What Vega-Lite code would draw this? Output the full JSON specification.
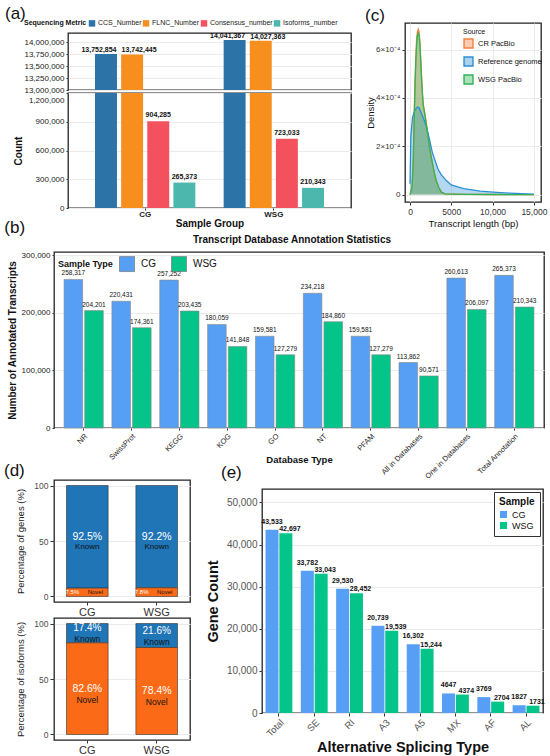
{
  "$schema": "https://vega.github.io/schema/vega-lite/v6.json",
  "padding": {"left": 3, "top": 3, "right": 0, "bottom": 0},
  "background": "white",
  "config": {
    "font": "Liberation Sans",
    "view": {"stroke": "#222", "strokeWidth": 1.3},
    "axis": {"domain": false, "labelColor": "#333", "titleColor": "#111", "tickColor": "#333", "gridColor": "#ebebeb", "tickSize": 3},
    "title": {"fontSize": 17, "fontWeight": "normal", "color": "#111", "anchor": "start"}
  },
  "datasets": {
    "seq": [
      {"group": "CG", "metric": "CCS_Number", "count": 13752854},
      {"group": "CG", "metric": "FLNC_Number", "count": 13742445},
      {"group": "CG", "metric": "Consensus_number", "count": 904285},
      {"group": "CG", "metric": "Isoforms_number", "count": 265373},
      {"group": "WSG", "metric": "CCS_Number", "count": 14041367},
      {"group": "WSG", "metric": "FLNC_Number", "count": 14027363},
      {"group": "WSG", "metric": "Consensus_number", "count": 723033},
      {"group": "WSG", "metric": "Isoforms_number", "count": 210343}
    ],
    "dens": [
      {"source": "CR PacBio", "length": 0, "density": 0},
      {"source": "CR PacBio", "length": 250, "density": 0.00003},
      {"source": "CR PacBio", "length": 400, "density": 0.00015},
      {"source": "CR PacBio", "length": 500, "density": 0.00032},
      {"source": "CR PacBio", "length": 600, "density": 0.00046},
      {"source": "CR PacBio", "length": 700, "density": 0.00057},
      {"source": "CR PacBio", "length": 800, "density": 0.00064},
      {"source": "CR PacBio", "length": 900, "density": 0.000675},
      {"source": "CR PacBio", "length": 1000, "density": 0.000685},
      {"source": "CR PacBio", "length": 1100, "density": 0.000675},
      {"source": "CR PacBio", "length": 1200, "density": 0.00063},
      {"source": "CR PacBio", "length": 1300, "density": 0.00056},
      {"source": "CR PacBio", "length": 1400, "density": 0.00049},
      {"source": "CR PacBio", "length": 1500, "density": 0.00042},
      {"source": "CR PacBio", "length": 1600, "density": 0.000375},
      {"source": "CR PacBio", "length": 1800, "density": 0.000335},
      {"source": "CR PacBio", "length": 2000, "density": 0.00029},
      {"source": "CR PacBio", "length": 2200, "density": 0.00024},
      {"source": "CR PacBio", "length": 2400, "density": 0.00019},
      {"source": "CR PacBio", "length": 2600, "density": 0.00015},
      {"source": "CR PacBio", "length": 2800, "density": 0.000115},
      {"source": "CR PacBio", "length": 3000, "density": 0.000082},
      {"source": "CR PacBio", "length": 3200, "density": 0.000055},
      {"source": "CR PacBio", "length": 3500, "density": 0.000028},
      {"source": "CR PacBio", "length": 3800, "density": 0.00001},
      {"source": "CR PacBio", "length": 4200, "density": 0.000003},
      {"source": "CR PacBio", "length": 5000, "density": 0.000002},
      {"source": "CR PacBio", "length": 7000, "density": 0.000001},
      {"source": "CR PacBio", "length": 10000, "density": 0.0000005},
      {"source": "CR PacBio", "length": 15000, "density": 0},
      {"source": "Reference genome", "length": 0, "density": 0.000045},
      {"source": "Reference genome", "length": 100, "density": 0.00024},
      {"source": "Reference genome", "length": 300, "density": 0.00032},
      {"source": "Reference genome", "length": 600, "density": 0.00035},
      {"source": "Reference genome", "length": 900, "density": 0.000363},
      {"source": "Reference genome", "length": 1100, "density": 0.00036},
      {"source": "Reference genome", "length": 1400, "density": 0.000335},
      {"source": "Reference genome", "length": 1750, "density": 0.000305},
      {"source": "Reference genome", "length": 2000, "density": 0.00028},
      {"source": "Reference genome", "length": 2350, "density": 0.00023},
      {"source": "Reference genome", "length": 2700, "density": 0.000175},
      {"source": "Reference genome", "length": 3000, "density": 0.000145},
      {"source": "Reference genome", "length": 3400, "density": 0.000105},
      {"source": "Reference genome", "length": 3800, "density": 0.000082},
      {"source": "Reference genome", "length": 4400, "density": 0.000058},
      {"source": "Reference genome", "length": 5000, "density": 0.00004},
      {"source": "Reference genome", "length": 6500, "density": 0.000025},
      {"source": "Reference genome", "length": 8500, "density": 0.000014},
      {"source": "Reference genome", "length": 10500, "density": 0.000009},
      {"source": "Reference genome", "length": 12000, "density": 0.000006},
      {"source": "Reference genome", "length": 13500, "density": 0.000004},
      {"source": "Reference genome", "length": 15000, "density": 0.000002},
      {"source": "WSG PacBio", "length": 0, "density": 0},
      {"source": "WSG PacBio", "length": 250, "density": 0.00003},
      {"source": "WSG PacBio", "length": 400, "density": 0.00014},
      {"source": "WSG PacBio", "length": 500, "density": 0.0003},
      {"source": "WSG PacBio", "length": 600, "density": 0.00044},
      {"source": "WSG PacBio", "length": 700, "density": 0.00055},
      {"source": "WSG PacBio", "length": 800, "density": 0.00062},
      {"source": "WSG PacBio", "length": 900, "density": 0.00066},
      {"source": "WSG PacBio", "length": 1000, "density": 0.000668},
      {"source": "WSG PacBio", "length": 1100, "density": 0.00066},
      {"source": "WSG PacBio", "length": 1200, "density": 0.00062},
      {"source": "WSG PacBio", "length": 1300, "density": 0.00055},
      {"source": "WSG PacBio", "length": 1400, "density": 0.00048},
      {"source": "WSG PacBio", "length": 1500, "density": 0.00042},
      {"source": "WSG PacBio", "length": 1600, "density": 0.00037},
      {"source": "WSG PacBio", "length": 1800, "density": 0.00033},
      {"source": "WSG PacBio", "length": 2000, "density": 0.000285},
      {"source": "WSG PacBio", "length": 2200, "density": 0.000235},
      {"source": "WSG PacBio", "length": 2400, "density": 0.000188},
      {"source": "WSG PacBio", "length": 2600, "density": 0.00015},
      {"source": "WSG PacBio", "length": 2800, "density": 0.000115},
      {"source": "WSG PacBio", "length": 3000, "density": 0.000082},
      {"source": "WSG PacBio", "length": 3200, "density": 0.000055},
      {"source": "WSG PacBio", "length": 3500, "density": 0.000028},
      {"source": "WSG PacBio", "length": 3800, "density": 0.00001},
      {"source": "WSG PacBio", "length": 4200, "density": 0.000003},
      {"source": "WSG PacBio", "length": 5000, "density": 0.000002},
      {"source": "WSG PacBio", "length": 7000, "density": 0.000001},
      {"source": "WSG PacBio", "length": 10000, "density": 0.0000005},
      {"source": "WSG PacBio", "length": 15000, "density": 0}
    ],
    "annot": [
      {"db": "NR", "sample": "CG", "count": 258317},
      {"db": "NR", "sample": "WSG", "count": 204201},
      {"db": "SwissProt", "sample": "CG", "count": 220431},
      {"db": "SwissProt", "sample": "WSG", "count": 174361},
      {"db": "KEGG", "sample": "CG", "count": 257252},
      {"db": "KEGG", "sample": "WSG", "count": 203435},
      {"db": "KOG", "sample": "CG", "count": 180059},
      {"db": "KOG", "sample": "WSG", "count": 141848},
      {"db": "GO", "sample": "CG", "count": 159581},
      {"db": "GO", "sample": "WSG", "count": 127279},
      {"db": "NT", "sample": "CG", "count": 234218},
      {"db": "NT", "sample": "WSG", "count": 184860},
      {"db": "PFAM", "sample": "CG", "count": 159581},
      {"db": "PFAM", "sample": "WSG", "count": 127279},
      {"db": "All in Databases", "sample": "CG", "count": 113862},
      {"db": "All in Databases", "sample": "WSG", "count": 90571},
      {"db": "One in Databases", "sample": "CG", "count": 260613},
      {"db": "One in Databases", "sample": "WSG", "count": 206097},
      {"db": "Total Annotation", "sample": "CG", "count": 265373},
      {"db": "Total Annotation", "sample": "WSG", "count": 210343}
    ],
    "pct": [
      {"panel": "genes", "group": "CG", "status": "Known", "pct": 92.5},
      {"panel": "genes", "group": "CG", "status": "Novel", "pct": 7.5},
      {"panel": "genes", "group": "WSG", "status": "Known", "pct": 92.2},
      {"panel": "genes", "group": "WSG", "status": "Novel", "pct": 7.8},
      {"panel": "isoforms", "group": "CG", "status": "Known", "pct": 17.4},
      {"panel": "isoforms", "group": "CG", "status": "Novel", "pct": 82.6},
      {"panel": "isoforms", "group": "WSG", "status": "Known", "pct": 21.6},
      {"panel": "isoforms", "group": "WSG", "status": "Novel", "pct": 78.4}
    ],
    "splice": [
      {"type": "Total", "sample": "CG", "count": 43533},
      {"type": "Total", "sample": "WSG", "count": 42697},
      {"type": "SE", "sample": "CG", "count": 33782},
      {"type": "SE", "sample": "WSG", "count": 33043},
      {"type": "RI", "sample": "CG", "count": 29530},
      {"type": "RI", "sample": "WSG", "count": 28452},
      {"type": "A3", "sample": "CG", "count": 20739},
      {"type": "A3", "sample": "WSG", "count": 19539},
      {"type": "A5", "sample": "CG", "count": 16302},
      {"type": "A5", "sample": "WSG", "count": 15244},
      {"type": "MX", "sample": "CG", "count": 4647},
      {"type": "MX", "sample": "WSG", "count": 4374},
      {"type": "AF", "sample": "CG", "count": 3769},
      {"type": "AF", "sample": "WSG", "count": 2704},
      {"type": "AL", "sample": "CG", "count": 1827},
      {"type": "AL", "sample": "WSG", "count": 1731}
    ]
  },
  "columns": 1,
  "align": "none",
  "spacing": -11,
  "resolve": {"scale": {"color": "independent", "x": "independent", "y": "independent", "xOffset": "independent"}, "legend": {"color": "independent"}},
  "concat": [
    {
      "align": "none",
      "spacing": -51,
      "resolve": {"scale": {"color": "independent", "x": "independent", "y": "independent", "xOffset": "independent"}, "legend": {"color": "independent"}},
      "concat": [
        {"width": 1, "height": 1, "data": {"values": []}, "mark": "point", "view": {"stroke": null}},
        {
          "align": "none",
          "spacing": 12,
          "resolve": {"scale": {"color": "independent", "x": "independent", "y": "independent", "xOffset": "independent"}, "legend": {"color": "independent"}},
          "concat": [
            {
              "columns": 1,
              "align": "none",
              "bounds": "flush",
              "spacing": 3,
              "resolve": {"scale": {"color": "independent", "x": "independent", "y": "independent", "xOffset": "independent"}, "legend": {"color": "independent"}},
              "concat": [
                {
                  "width": 283,
                  "height": 57,
                  "data": {"name": "seq"},
                  "title": {"text": "(a)", "frame": "group", "dx": -63, "offset": -3.5},
                  "encoding": {
                    "x": {"field": "group", "type": "nominal", "scale": {"paddingInner": 0.22, "paddingOuter": 0.21}, "axis": null},
                    "xOffset": {"field": "metric", "type": "nominal", "scale": {"domain": ["CCS_Number", "FLNC_Number", "Consensus_number", "Isoforms_number"], "paddingInner": 0.16}},
                    "y": {
                      "field": "count", "type": "quantitative", "title": null,
                      "scale": {"domain": [13000000, 14190000], "nice": false, "zero": false},
                      "axis": {"values": [13000000, 13250000, 13500000, 13750000, 14000000], "format": ",d", "labelFontSize": 8, "labelColor": "#222", "labelPadding": 2, "tickSize": 2, "minExtent": 44, "maxExtent": 44, "grid": true}
                    },
                    "color": {
                      "field": "metric", "type": "nominal",
                      "scale": {"domain": ["CCS_Number", "FLNC_Number", "Consensus_number", "Isoforms_number"], "range": ["#2c74a8", "#f78f1e", "#f4515e", "#4cb8ad"]},
                      "legend": {"title": "Sequencing Metric", "orient": "none", "legendX": -44, "legendY": -14, "direction": "horizontal", "titleOrient": "left", "titleFontSize": 7, "titleFontWeight": "bold", "titleColor": "#111", "labelFontSize": 7, "labelColor": "#222", "symbolType": "square", "symbolSize": 42, "labelOffset": 2, "columnPadding": 0, "titlePadding": 1}
                    }
                  },
                  "layer": [
                    {"mark": {"type": "bar", "clip": true}},
                    {
                      "transform": [{"filter": "datum.metric == 'CCS_Number'"}],
                      "mark": {"type": "text", "dy": -4, "dx": -7, "fontSize": 7, "fontWeight": "bold"},
                      "encoding": {"text": {"field": "count", "type": "quantitative", "format": ",d"}, "color": {"value": "#111"}}
                    },
                    {
                      "transform": [{"filter": "datum.metric == 'FLNC_Number'"}],
                      "mark": {"type": "text", "dy": -4, "dx": 7, "fontSize": 7, "fontWeight": "bold"},
                      "encoding": {"text": {"field": "count", "type": "quantitative", "format": ",d"}, "color": {"value": "#111"}}
                    }
                  ]
                },
                {
                  "width": 283,
                  "height": 115,
                  "data": {"name": "seq"},
                  "encoding": {
                    "x": {
                      "field": "group", "type": "nominal", "title": "Sample Group",
                      "scale": {"paddingInner": 0.22, "paddingOuter": 0.21},
                      "axis": {"labelAngle": 0, "labelFontSize": 8, "labelFontWeight": "bold", "labelColor": "#222", "labelPadding": 0, "tickSize": 2, "titleFontSize": 10, "titleFontWeight": "bold", "titlePadding": 0}
                    },
                    "xOffset": {"field": "metric", "type": "nominal", "scale": {"domain": ["CCS_Number", "FLNC_Number", "Consensus_number", "Isoforms_number"], "paddingInner": 0.16}},
                    "y": {
                      "field": "count", "type": "quantitative", "title": "Count",
                      "scale": {"domain": [0, 1200000], "nice": false},
                      "axis": {"values": [0, 300000, 600000, 900000, 1200000], "format": ",d", "labelFontSize": 8, "labelColor": "#222", "labelPadding": 2, "tickSize": 2, "minExtent": 44, "maxExtent": 44, "titleFontSize": 10, "titleFontWeight": "bold", "titlePadding": 1, "grid": true,
                        "labelOffset": {"condition": {"test": "datum.value == 1200000", "value": 7}, "value": 0}}
                    },
                    "color": {
                      "field": "metric", "type": "nominal",
                      "scale": {"domain": ["CCS_Number", "FLNC_Number", "Consensus_number", "Isoforms_number"], "range": ["#2c74a8", "#f78f1e", "#f4515e", "#4cb8ad"]},
                      "legend": null
                    }
                  },
                  "layer": [
                    {"mark": {"type": "bar", "clip": true}},
                    {
                      "transform": [{"filter": "datum.count < 13000000"}],
                      "mark": {"type": "text", "dy": -6, "fontSize": 7, "fontWeight": "bold"},
                      "encoding": {"text": {"field": "count", "type": "quantitative", "format": ",d"}, "color": {"value": "#111"}}
                    }
                  ]
                }
              ]
            },
            {
              "columns": 1,
              "align": "none",
              "spacing": -29,
              "resolve": {"scale": {"color": "independent", "x": "independent", "y": "independent"}, "legend": {"color": "independent"}},
              "concat": [
                {"width": 1, "height": 1, "data": {"values": []}, "mark": "point", "view": {"stroke": null}},
                {
                  "width": 136,
                  "height": 179,
                  "data": {"name": "dens"},
                  "title": {"text": "(c)", "frame": "group", "dx": -40, "offset": -1.5},
                  "encoding": {
                    "x": {
                      "field": "length", "type": "quantitative", "title": "Transcript length (bp)",
                      "scale": {"domain": [-607, 15862], "nice": false, "zero": false},
                      "axis": {"values": [0, 5000, 10000, 15000], "labelExpr": "datum.value == 5000 ? '5000' : format(datum.value, ',d')", "labelFontSize": 8.5, "labelColor": "#333", "titleFontSize": 9.5, "titleFontWeight": "normal", "grid": true, "tickSize": 3, "labelPadding": 2, "titlePadding": 3}
                    },
                    "y": {
                      "field": "density", "type": "quantitative", "title": "Density", "stack": null,
                      "scale": {"domain": [-0.0000306, 0.0007105], "nice": false, "zero": false},
                      "axis": {"values": [0, 0.0002, 0.0004, 0.0006], "labelExpr": "datum.value == 0 ? '0' : format(datum.value * 10000, '.0f') + '×10⁻⁴'", "labelFontSize": 8, "labelColor": "#333", "titleFontSize": 9.5, "titleFontWeight": "normal", "minExtent": 25, "maxExtent": 25, "titlePadding": 5, "grid": true, "tickSize": 3}
                    },
                    "color": {
                      "field": "source", "type": "nominal",
                      "scale": {"domain": ["CR PacBio", "Reference genome", "WSG PacBio"], "range": ["#f4813f", "#2b8fd3", "#2fb556"]},
                      "legend": {"title": "Source", "orient": "none", "legendX": 58, "legendY": 5, "titleFontSize": 7, "titleFontWeight": "normal", "titleColor": "#111", "labelFontSize": 7.5, "labelColor": "#111", "symbolType": "square", "symbolSize": 80, "symbolStrokeWidth": 1.4, "rowPadding": 3, "titlePadding": 3,
                        "encode": {"symbols": {"update": {"fillOpacity": {"value": 0.4}}}}}
                    }
                  },
                  "layer": [
                    {"mark": {"type": "area", "fillOpacity": 0.35}},
                    {"mark": {"type": "line", "strokeWidth": 1.3}}
                  ]
                }
              ]
            }
          ]
        }
      ]
    },
    {
      "columns": 1,
      "align": "none",
      "spacing": -20,
      "resolve": {"scale": {"color": "independent", "x": "independent", "y": "independent", "xOffset": "independent"}, "legend": {"color": "independent"}},
      "concat": [
        {
          "columns": 1,
          "align": "none",
          "title": {"text": "(b)", "anchor": "start", "frame": "bounds", "dx": -2, "offset": -2},
          "concat": [
            {
              "width": 490,
              "height": 176,
              "data": {"name": "annot"},
              "title": {"text": "Transcript Database Annotation Statistics", "anchor": "middle", "fontSize": 10, "fontWeight": "bold", "offset": 6, "dx": -7},
              "encoding": {
                "x": {
                  "field": "db", "type": "nominal", "title": "Database Type",
                  "sort": ["NR", "SwissProt", "KEGG", "KOG", "GO", "NT", "PFAM", "All in Databases", "One in Databases", "Total Annotation"],
                  "scale": {"paddingInner": 0.18, "paddingOuter": 0.21},
                  "axis": {"labelAngle": -45, "labelFontSize": 7.5, "labelColor": "#222", "labelPadding": 2, "tickSize": 2, "titleFontSize": 9.5, "titleFontWeight": "bold", "titleY": 26}
                },
                "xOffset": {"field": "sample", "type": "nominal", "scale": {"domain": ["CG", "WSG"], "paddingInner": 0.1}},
                "y": {
                  "field": "count", "type": "quantitative", "title": "Number of Annotated Transcripts",
                  "scale": {"domain": [0, 306000], "nice": false},
                  "axis": {"values": [0, 100000, 200000, 300000], "format": ",d", "labelFontSize": 8, "labelColor": "#222", "labelPadding": 2, "tickSize": 2, "minExtent": 37, "maxExtent": 37, "titlePadding": 0, "titleFontSize": 10, "titleFontWeight": "bold", "grid": true}
                },
                "color": {
                  "field": "sample", "type": "nominal",
                  "scale": {"domain": ["CG", "WSG"], "range": ["#579ef5", "#05c48a"]},
                  "legend": {"title": "Sample Type", "orient": "none", "legendX": 4, "legendY": 4, "direction": "horizontal", "titleOrient": "left", "titleFontSize": 9, "titleFontWeight": "bold", "titleColor": "#111", "labelFontSize": 10, "labelColor": "#111", "symbolType": "square", "symbolSize": 225, "symbolStrokeColor": "#777", "symbolStrokeWidth": 0.7, "columnPadding": 14, "labelOffset": 6, "titlePadding": 6}
                }
              },
              "layer": [
                {"mark": {"type": "bar", "stroke": "#888", "strokeWidth": 0.6}},
                {
                  "mark": {"type": "text", "dy": -6, "fontSize": 6.5},
                  "encoding": {"text": {"field": "count", "type": "quantitative", "format": ",d"}, "color": {"value": "#111"}}
                }
              ]
            }
          ]
        },
        {
          "align": "none",
          "spacing": 13,
          "resolve": {"scale": {"color": "independent", "x": "independent", "y": "independent", "xOffset": "independent"}, "legend": {"color": "independent"}},
          "concat": [
            {
              "columns": 1,
              "align": "none",
              "bounds": "flush",
              "spacing": 16,
              "resolve": {"scale": {"color": "independent", "x": "independent", "y": "independent"}},
              "concat": [
                {
                  "width": 136,
                  "height": 122,
                  "title": {"text": "(d)", "frame": "group", "dx": -50, "offset": 0},
                  "data": {"name": "pct"},
                  "transform": [
                    {"filter": "datum.panel == 'genes'"},
                    {"stack": "pct", "groupby": ["group"], "sort": [{"field": "status", "order": "descending"}], "as": ["y0", "y1"]},
                    {"calculate": "(datum.y0 + datum.y1) / 2", "as": "mid"},
                    {"calculate": "format(datum.pct, '.1f') + '%'", "as": "lbl"}
                  ],
                  "encoding": {
                    "x": {"field": "group", "type": "nominal", "title": null, "scale": {"paddingInner": 0.4, "paddingOuter": 0.18}, "axis": {"labelAngle": 0, "labelFontSize": 11, "labelColor": "#333", "labelPadding": 1, "tickSize": 3}}
                  },
                  "layer": [
                    {
                      "mark": {"type": "bar", "stroke": "#333", "strokeWidth": 0.6},
                      "encoding": {
                        "y": {"field": "y1", "type": "quantitative", "title": "Percentage of genes (%)", "scale": {"domain": [-5, 105], "nice": false}, "axis": {"values": [0, 25, 50, 75, 100], "labelFontSize": 8.5, "labelColor": "#4d4d4d", "titleFontSize": 9.5, "titleFontWeight": "normal", "titleColor": "#222", "minExtent": 24, "maxExtent": 24, "titlePadding": 5, "grid": true, "tickSize": 4}},
                        "y2": {"field": "y0"},
                        "color": {"field": "status", "type": "nominal", "scale": {"domain": ["Known", "Novel"], "range": ["#1f75b6", "#fb6b17"]}, "legend": null}
                      }
                    },
                    {
                      "transform": [{"filter": "datum.status == 'Known'"}],
                      "mark": {"type": "text", "fontSize": 10.5, "color": "white"},
                      "encoding": {"y": {"field": "mid", "type": "quantitative", "title": "Percentage of genes (%)"}, "text": {"field": "lbl"}}
                    },
                    {
                      "transform": [{"filter": "datum.status == 'Known'"}],
                      "mark": {"type": "text", "fontSize": 8, "dy": 10, "color": "#111"},
                      "encoding": {"y": {"field": "mid", "type": "quantitative", "title": "Percentage of genes (%)"}, "text": {"field": "status"}}
                    },
                    {
                      "transform": [{"filter": "datum.status == 'Novel'"}],
                      "mark": {"type": "text", "fontSize": 6, "dx": -15, "color": "white"},
                      "encoding": {"y": {"field": "mid", "type": "quantitative", "title": "Percentage of genes (%)"}, "text": {"field": "lbl"}}
                    },
                    {
                      "transform": [{"filter": "datum.status == 'Novel'"}],
                      "mark": {"type": "text", "fontSize": 6, "dx": 8, "color": "#111"},
                      "encoding": {"y": {"field": "mid", "type": "quantitative", "title": "Percentage of genes (%)"}, "text": {"field": "status"}}
                    }
                  ]
                },
                {
                  "width": 136,
                  "height": 122,
                  "data": {"name": "pct"},
                  "transform": [
                    {"filter": "datum.panel == 'isoforms'"},
                    {"stack": "pct", "groupby": ["group"], "sort": [{"field": "status", "order": "descending"}], "as": ["y0", "y1"]},
                    {"calculate": "(datum.y0 + datum.y1) / 2", "as": "mid"},
                    {"calculate": "format(datum.pct, '.1f') + '%'", "as": "lbl"}
                  ],
                  "encoding": {
                    "x": {"field": "group", "type": "nominal", "title": null, "scale": {"paddingInner": 0.4, "paddingOuter": 0.18}, "axis": {"labelAngle": 0, "labelFontSize": 11, "labelColor": "#333", "labelPadding": 1, "tickSize": 3}}
                  },
                  "layer": [
                    {
                      "mark": {"type": "bar", "stroke": "#333", "strokeWidth": 0.6},
                      "encoding": {
                        "y": {"field": "y1", "type": "quantitative", "title": "Percentage of isoforms (%)", "scale": {"domain": [-5, 105], "nice": false}, "axis": {"values": [0, 25, 50, 75, 100], "labelFontSize": 8.5, "labelColor": "#4d4d4d", "titleFontSize": 9.5, "titleFontWeight": "normal", "titleColor": "#222", "minExtent": 24, "maxExtent": 24, "titlePadding": 5, "grid": true, "tickSize": 4}},
                        "y2": {"field": "y0"},
                        "color": {"field": "status", "type": "nominal", "scale": {"domain": ["Known", "Novel"], "range": ["#1f75b6", "#fb6b17"]}, "legend": null}
                      }
                    },
                    {
                      "transform": [{"filter": "datum.status == 'Known'"}],
                      "mark": {"type": "text", "fontSize": 10, "dy": -5, "color": "white"},
                      "encoding": {"y": {"field": "mid", "type": "quantitative", "title": "Percentage of isoforms (%)"}, "text": {"field": "lbl"}}
                    },
                    {
                      "transform": [{"filter": "datum.status == 'Known'"}],
                      "mark": {"type": "text", "fontSize": 8.5, "dy": 6, "color": "#111"},
                      "encoding": {"y": {"field": "mid", "type": "quantitative", "title": "Percentage of isoforms (%)"}, "text": {"field": "status"}}
                    },
                    {
                      "transform": [{"filter": "datum.status == 'Novel'"}],
                      "mark": {"type": "text", "fontSize": 10.5, "color": "white"},
                      "encoding": {"y": {"field": "mid", "type": "quantitative", "title": "Percentage of isoforms (%)"}, "text": {"field": "lbl"}}
                    },
                    {
                      "transform": [{"filter": "datum.status == 'Novel'"}],
                      "mark": {"type": "text", "fontSize": 8.5, "dy": 11, "color": "#111"},
                      "encoding": {"y": {"field": "mid", "type": "quantitative", "title": "Percentage of isoforms (%)"}, "text": {"field": "status"}}
                    }
                  ]
                }
              ]
            },
            {
              "columns": 1,
              "align": "none",
              "spacing": -18,
              "resolve": {"scale": {"color": "independent", "x": "independent", "y": "independent", "xOffset": "independent"}, "legend": {"color": "independent"}},
              "concat": [
                {"width": 1, "height": 1, "data": {"values": []}, "mark": "point", "view": {"stroke": null}},
                {
                  "width": 281,
                  "height": 224,
                  "title": {"text": "(e)", "frame": "group", "dx": -41, "offset": 7},
                  "data": {"name": "splice"},
                  "encoding": {
                    "x": {
                      "field": "type", "type": "nominal", "title": "Alternative Splicing Type",
                      "sort": ["Total", "SE", "RI", "A3", "A5", "MX", "AF", "AL"],
                      "scale": {"paddingInner": 0.24, "paddingOuter": 0.1},
                      "axis": {"labelAngle": -45, "labelFontSize": 9.5, "labelColor": "#555", "labelPadding": 1, "tickSize": 3, "titleFontSize": 14.5, "titleFontWeight": "bold", "titlePadding": 3}
                    },
                    "xOffset": {"field": "sample", "type": "nominal", "scale": {"domain": ["CG", "WSG"], "paddingInner": 0.06}},
                    "y": {
                      "field": "count", "type": "quantitative", "title": "Gene Count",
                      "scale": {"domain": [0, 53200], "nice": false},
                      "axis": {"values": [0, 10000, 20000, 30000, 40000, 50000], "format": ",d", "labelFontSize": 10, "labelColor": "#555", "minExtent": 36, "maxExtent": 36, "titlePadding": 6, "titleFontSize": 14.5, "titleFontWeight": "bold", "tickSize": 3}
                    },
                    "color": {
                      "field": "sample", "type": "nominal",
                      "scale": {"domain": ["CG", "WSG"], "range": ["#579ef5", "#05c48a"]},
                      "legend": {"title": "Sample", "orient": "top-right", "offset": 3, "strokeColor": "#333", "fillColor": "white", "padding": 5, "titleFontSize": 10, "titleFontWeight": "bold", "titleColor": "#111", "labelFontSize": 9, "labelColor": "#111", "symbolType": "square", "symbolSize": 50, "rowPadding": 1, "titlePadding": 3}
                    }
                  },
                  "layer": [
                    {"mark": {"type": "bar"}},
                    {
                      "transform": [{"filter": "datum.sample == 'CG'"}, {"calculate": "datum.count >= 10000 ? format(datum.count, ',d') : format(datum.count, 'd')", "as": "lbl"}],
                      "mark": {"type": "text", "dy": -8, "fontSize": 7, "fontWeight": "bold"},
                      "encoding": {"text": {"field": "lbl"}, "color": {"value": "#111"}}
                    },
                    {
                      "transform": [{"filter": "datum.sample == 'WSG'"}, {"calculate": "datum.count >= 10000 ? format(datum.count, ',d') : format(datum.count, 'd')", "as": "lbl"}],
                      "mark": {"type": "text", "dy": -4, "dx": 4, "fontSize": 7, "fontWeight": "bold"},
                      "encoding": {"text": {"field": "lbl"}, "color": {"value": "#111"}}
                    }
                  ]
                }
              ]
            }
          ]
        }
      ]
    }
  ]
}
